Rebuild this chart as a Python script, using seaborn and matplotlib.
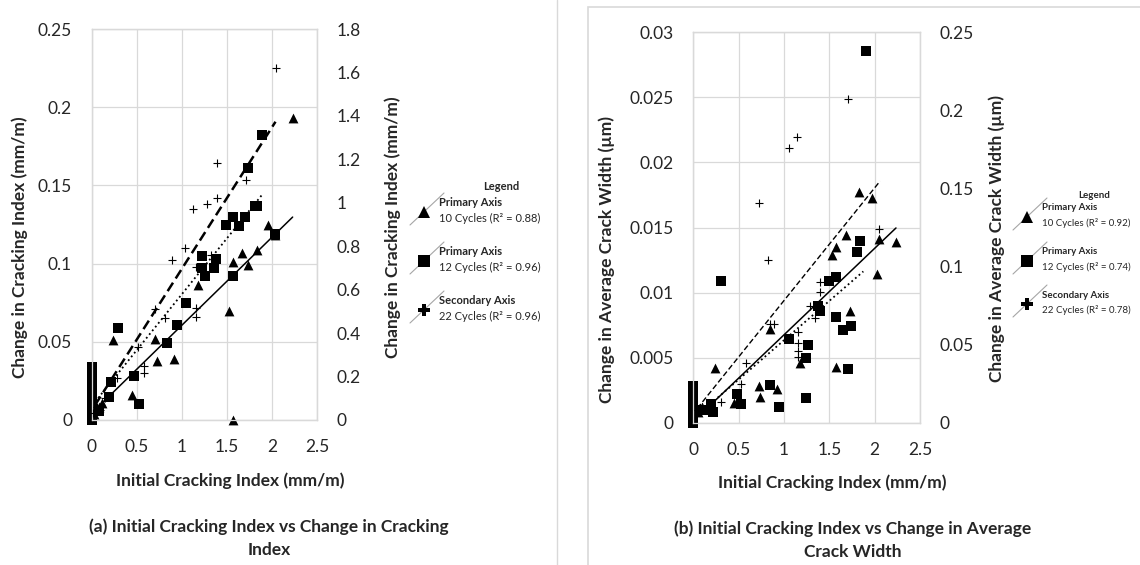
import numpy as np
import matplotlib
matplotlib.use("Agg")
import matplotlib.pyplot as plt
import seaborn as sns
from matplotlib.lines import Line2D
from matplotlib.patches import Rectangle
from matplotlib.ticker import FuncFormatter

sns.set_style("white")
plt.rcParams["font.family"] = ["Lato", "DejaVu Sans"]

# ---- panel (a): initial cracking index vs change in cracking index ----
a_tri_x = [0.03, 0.08, 0.12, 0.24, 0.445, 0.70, 0.73, 0.915, 1.18, 1.52, 1.57, 1.57, 1.67, 1.73, 1.83, 1.96, 2.03, 2.23]
a_tri_y = [0.004, 0.008, 0.011, 0.051, 0.016, 0.052, 0.038, 0.039, 0.086, 0.070, 0.0, 0.101, 0.107, 0.099, 0.109, 0.125, 0.118, 0.193]

a_sq_x = [0.0, 0.0, 0.0, 0.0, 0.0, 0.0, 0.0, 0.0, 0.0, 0.0, 0.0, 0.0, 0.08, 0.19, 0.22, 0.29, 0.47, 0.53,
          0.84, 0.95, 1.05, 1.22, 1.23, 1.26, 1.36, 1.38, 1.49, 1.57, 1.57, 1.64, 1.70, 1.73, 1.81, 1.83, 1.89, 2.03]
a_sq_y = [0.034, 0.031, 0.027, 0.024, 0.021, 0.018, 0.015, 0.012, 0.009, 0.006, 0.003, 0.0, 0.006, 0.015, 0.024, 0.059, 0.028, 0.010,
          0.049, 0.061, 0.075, 0.105, 0.097, 0.092, 0.097, 0.103, 0.125, 0.130, 0.092, 0.124, 0.130, 0.161, 0.137, 0.137, 0.182, 0.119]

a_plus_x = [0.02, 0.06, 0.09, 0.15, 0.28, 0.52, 0.58, 0.58, 0.70, 0.815, 0.89, 1.04, 1.13, 1.16, 1.16, 1.16, 1.28, 1.32, 1.39, 1.39, 1.71, 2.04]
a_plus_y = [0.03, 0.06, 0.046, 0.10, 0.192, 0.337, 0.249, 0.215, 0.510, 0.468, 0.737, 0.790, 0.970, 0.706, 0.514, 0.476, 0.993, 0.760, 1.023, 1.185, 1.105, 1.619]

# trendlines: slope, intercept, x start, x end
a_fit10 = [0.0563, 0.0042, 0.06, 2.23]
a_fit12 = [0.0715, 0.0088, 0.04, 1.89]
a_fit22 = [0.652, 0.043, 0.04, 2.04]
a_r2 = ["0.88", "0.96", "0.96"]

# ---- panel (b): initial cracking index vs change in average crack width ----
b_tri_x = [0.05, 0.10, 0.24, 0.45, 0.72, 0.74, 0.85, 0.92, 1.18, 1.53, 1.57, 1.57, 1.68, 1.73, 1.83, 1.97, 2.03, 2.05, 2.23]
b_tri_y = [0.0008, 0.0012, 0.0042, 0.0015, 0.0028, 0.0020, 0.0072, 0.0026, 0.0046, 0.0129, 0.0135, 0.0043, 0.0144, 0.0086, 0.0177, 0.0173, 0.0114, 0.0141, 0.0139]

b_sq_x = [0.0, 0.0, 0.0, 0.0, 0.0, 0.0, 0.0, 0.0, 0.11, 0.20, 0.22, 0.30, 0.48, 0.53, 0.85, 0.95, 1.05, 1.24, 1.24,
          1.26, 1.37, 1.40, 1.50, 1.57, 1.57, 1.65, 1.71, 1.74, 1.81, 1.84, 1.90]
b_sq_y = [0.0028, 0.0024, 0.0020, 0.0016, 0.0012, 0.0008, 0.0004, 0.0, 0.0010, 0.0014, 0.0008, 0.0109, 0.0022, 0.0014, 0.0029, 0.0012, 0.0064, 0.0019, 0.0050,
          0.0060, 0.0090, 0.0086, 0.0109, 0.0112, 0.0081, 0.0071, 0.0041, 0.0074, 0.0131, 0.0140, 0.0286]

b_plus_x = [0.05, 0.10, 0.20, 0.31, 0.53, 0.58, 0.72, 0.82, 0.85, 0.89, 1.05, 1.14, 1.15, 1.15, 1.15, 1.15, 1.29, 1.34, 1.40, 1.40, 1.71, 2.05]
b_plus_y = [0.008, 0.010, 0.012, 0.013, 0.025, 0.038, 0.141, 0.104, 0.063, 0.063, 0.176, 0.183, 0.058, 0.051, 0.046, 0.042, 0.075, 0.067, 0.090, 0.084, 0.207, 0.124]

b_fit10 = [0.00665, 0.0001, 0.07, 2.235]
b_fit12 = [0.00604, 0.0003, 0.07, 1.875]
b_fit22 = [0.0722, 0.006, 0.044, 2.06]
b_r2 = ["0.92", "0.74", "0.78"]

x_ticks = [0, 0.5, 1, 1.5, 2, 2.5]

W, H = 1140, 565
fig = plt.figure(figsize=(W / 100, H / 100), dpi=100)
grid_c = "#d9d9d9"
fmt = FuncFormatter(lambda v, p: f"{v:g}")


def px_rect(x0, y0, x1, y1):
    return [x0 / W, 1 - y1 / H, (x1 - x0) / W, (y1 - y0) / H]


def trend(ax, fit, ls, lw):
    xs = np.array([fit[2], fit[3]])
    sns.lineplot(x=xs, y=fit[0] * xs + fit[1], ax=ax, color="black", linestyle=ls, linewidth=lw,
                 estimator=None, sort=False, zorder=4)


def panel(rect, tri, sq, plus, fits, ymax1, ystep1, ymax2, ystep2, ylab, lab_pos, dash_lw):
    ax = fig.add_axes(rect)
    ax2 = ax.twinx()
    sns.scatterplot(x=tri[0], y=tri[1], ax=ax, marker="^", color="black", s=50, linewidth=0, zorder=3, clip_on=False)
    sns.scatterplot(x=sq[0], y=sq[1], ax=ax, marker="s", color="black", s=46, linewidth=0, zorder=3, clip_on=False)
    sns.scatterplot(x=plus[0], y=plus[1], ax=ax2, marker="+", color="black", s=32, linewidth=0.8, zorder=3, clip_on=False)
    trend(ax, fits[0], "-", 1.1)
    trend(ax, fits[1], ":", 1.3)
    trend(ax2, fits[2], (0, (4, 2)), dash_lw)

    ax.set_xlim(0, 2.5)
    ax.set_ylim(0, ymax1)
    ax2.set_ylim(0, ymax2)
    ax.set_xticks(x_ticks)
    ax.set_yticks(np.arange(0, ymax1 + ystep1 / 2, ystep1))
    ax2.set_yticks(np.arange(0, ymax2 + ystep2 / 2, ystep2))
    for a in (ax, ax2):
        a.xaxis.set_major_formatter(fmt)
        a.yaxis.set_major_formatter(fmt)
        a.tick_params(length=0, labelsize=12.5, colors="#262626", pad=14)
        for s in a.spines.values():
            s.set_color(grid_c)
            s.set_linewidth(0.9)
    ax.grid(True, color=grid_c, linewidth=0.9)
    ax.set_axisbelow(True)

    ax.set_xlabel("Initial Cracking Index (mm/m)", fontsize=12.5, fontweight="bold", va="center")
    ax.xaxis.set_label_coords(*lab_pos[0])
    ax.set_ylabel(ylab, fontsize=12.5, fontweight="bold", va="center")
    ax.yaxis.set_label_coords(*lab_pos[1])
    ax2.set_ylabel(ylab, fontsize=12.5, fontweight="bold", va="center", rotation=90)
    ax2.yaxis.set_label_coords(*lab_pos[2])
    return ax


panel(px_rect(91.5, 29, 317, 420), (a_tri_x, a_tri_y), (a_sq_x, a_sq_y), (a_plus_x, a_plus_y),
      (a_fit10, a_fit12, a_fit22), 0.25, 0.05, 1.8, 0.2,
      "Change in Cracking Index (mm/m)", [(0.614, -0.156), (-0.317, 0.4425), (1.337, 0.494)], 1.8)

panel(px_rect(693.3, 32.3, 920, 422.7), (b_tri_x, b_tri_y), (b_sq_x, b_sq_y), (b_plus_x, b_plus_y),
      (b_fit10, b_fit12, b_fit22), 0.03, 0.005, 0.25, 0.05,
      "Change in Average Crack Width (\u00b5m)", [(0.612, -0.154), (-0.381, 0.419), (1.340, 0.471)], 1.0)


# custom legends (drawn in pixel coordinates of the figure)
def fx(x):
    return x / W


def fy(y):
    return 1 - y / H


def legend(x_mark, title_xy, ys, r2, fs):
    fig.text(fx(title_xy[0]), fy(title_xy[1]), "Legend", fontsize=fs, fontweight="bold", ha="center", va="center")
    axes_names = ["Primary Axis", "Primary Axis", "Secondary Axis"]
    cycles = ["10", "12", "22"]
    marks = ["^", "s", "P"]
    sizes = [9, 8, 8]
    for i, y in enumerate(ys):
        fig.add_artist(Line2D([fx(x_mark - 14), fx(x_mark + 20)], [fy(y + 13), fy(y - 19)],
                              color="#a6a6a6", linewidth=0.8, transform=fig.transFigure))
        fig.add_artist(Line2D([fx(x_mark)], [fy(y)], marker=marks[i], markersize=sizes[i], color="black",
                              markeredgewidth=0, linestyle="none", transform=fig.transFigure))
        fig.text(fx(x_mark + 15), fy(y - 9), axes_names[i], fontsize=fs, fontweight="bold", ha="left", va="center")
        fig.text(fx(x_mark + 15), fy(y + 6), f"{cycles[i]} Cycles (R\u00b2 = {r2[i]})", fontsize=fs,
                 ha="left", va="center", color="#262626")


legend(424, (501, 187), [212, 261, 310], a_r2, 8)
legend(1027, (1094, 195), [217, 261, 304], b_r2, 7)

# captions
fig.text(fx(269), fy(538), "(a) Initial Cracking Index vs Change in Cracking\nIndex", fontsize=12.5,
         fontweight="bold", ha="center", va="center", linespacing=1.5)
fig.text(fx(853), fy(540), "(b) Initial Cracking Index vs Change in Average\nCrack Width", fontsize=12.5,
         fontweight="bold", ha="center", va="center", linespacing=1.5)

# divider and frame around panel (b)
fig.add_artist(Line2D([fx(557), fx(557)], [0, 1], color=grid_c, linewidth=1, transform=fig.transFigure))
fig.add_artist(Rectangle((fx(588), -0.1), 1, fy(7) + 0.1, fill=False, edgecolor=grid_c, linewidth=1.2,
                         transform=fig.transFigure))

fig.savefig("out.png", dpi=100)
